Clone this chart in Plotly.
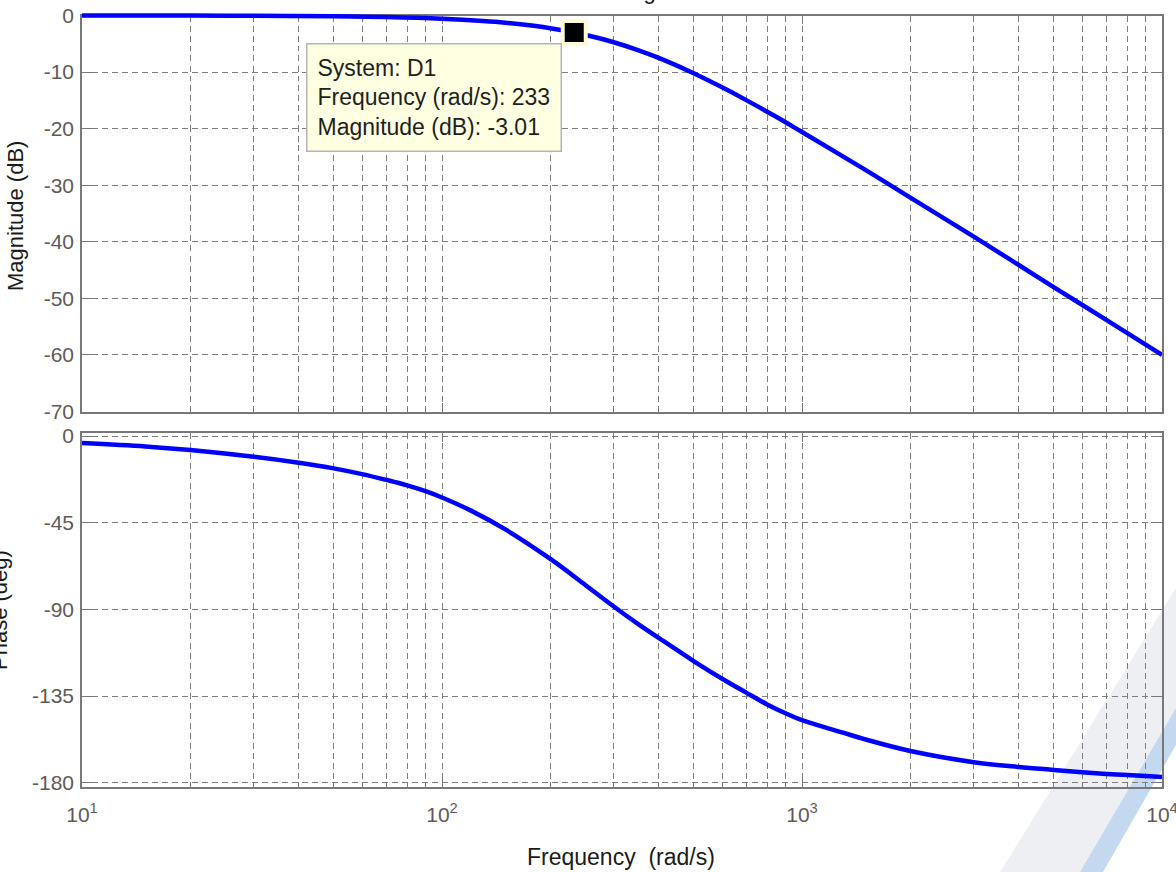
import plotly.graph_objects as go

# ---------------- data ----------------
mag_freq = [10, 20, 30, 50, 70, 100, 130, 150, 180, 200, 233, 270, 300, 350,
            400, 500, 600, 700, 850, 1000, 1500, 2000, 3000, 5000, 7000, 10000]
mag_db = [0.0, -0.02, -0.05, -0.14, -0.28, -0.57, -0.96, -1.27, -1.83, -2.24,
          -3.01, -3.93, -4.73, -6.11, -7.5, -10.2, -12.7, -14.96, -17.95,
          -20.6, -27.3, -32.2, -39.1, -48.0, -53.8, -60.0]

phase_freq = [10, 15, 20, 30, 40, 50, 60, 70, 80, 90, 100, 120, 150, 200, 250,
              300, 350, 400, 500, 600, 700, 800, 900, 1000, 1300, 1500, 2000,
              3000, 4000, 5000, 6000, 7000, 8000, 9000, 10000]
phase_deg = [-3.6, -5.4, -7.3, -10.8, -13.9, -16.8, -19.8, -22.8, -25.6, -28.6,
             -31.9, -38.6, -48.5, -63.8, -77.3, -88.5, -97.5, -104.8, -116.8,
             -126.0, -133.2, -139.3, -143.9, -147.5, -154.0, -157.5, -163.5,
             -169.3, -171.8, -173.3, -174.5, -175.4, -176.0, -176.5, -177.0]

tip_system = "D1"
tip_freq = [233]
tip_mag = [-3.01]

x_tickvals = [10, 100, 1000, 10000]
x_ticktext = ["10<sup>1</sup>", "10<sup>2</sup>", "10<sup>3</sup>", "10<sup>4</sup>"]
x_minor_vals = [m * 10 ** e for e in (1, 2, 3) for m in range(2, 10)]
mag_ticks = [0, -10, -20, -30, -40, -50, -60, -70]
mag_ticktext = ["0", "-10", "-20", "-30", "-40", "-50", "-60", "-70"]
phase_ticks = [0, -45, -90, -135, -180]
phase_ticktext = ["0", "-45", "-90", "-135", "-180"]

title_text = "Bode Diagram"
mag_label = "Magnitude (dB)"
phase_label = "Phase (deg)"
freq_label = "Frequency\u00a0 (rad/s)"

# ---------------- layout geometry ----------------
W, H = 1176, 872
L, R, T, B = 82, 14, 0, 85
PW = W - L - R
PH = H - T - B


def px(x):
    return (x - L) / PW


def py(y):
    return (PH - (y - T)) / PH


FONT = "Liberation Sans, Arial, Helvetica, sans-serif"
AXC = "#787878"
GRIDC = "#7e7e7e"
TICKC = "#5f5a56"

mag_top, mag_bot = 15.5, 411.5
ph_top, ph_bot = 433.3, 786.7
mag_scale = (mag_bot - mag_top) / 70.0
ph_scale = (782.8 - 436.0) / 180.0
ph_range = [-180 - (ph_bot - 782.8) / ph_scale, (436.0 - ph_top) / ph_scale]

fig = go.Figure()

# invisible copy keeps the visible magnitude frame active
fig.add_trace(go.Scatter(x=mag_freq, y=mag_db, mode="lines", opacity=0, line=dict(color="#0000ff", width=1),
                         xaxis="x", yaxis="y", showlegend=False, hoverinfo="skip"))
# magnitude curve + datatip marker on an unclipped overlay frame with the same scale
fig.add_trace(go.Scatter(x=mag_freq, y=mag_db, mode="lines", line=dict(color="#0000ff", width=4.5, shape="spline"),
                         xaxis="x3", yaxis="y3", showlegend=False, hoverinfo="skip"))
fig.add_trace(go.Scatter(x=tip_freq, y=tip_mag, mode="markers",
                         marker=dict(symbol="square", size=23, color="black",
                                     line=dict(color="#fffbd6", width=4)),
                         xaxis="x3", yaxis="y3", showlegend=False, hoverinfo="skip"))
# phase curve
fig.add_trace(go.Scatter(x=phase_freq, y=phase_deg, mode="lines", line=dict(color="#0000ff", width=4.5, shape="spline"),
                         xaxis="x2", yaxis="y2", showlegend=False, hoverinfo="skip"))

common_x = dict(type="log", range=[1, 4], autorange=False, domain=[0, 1], showline=True, linecolor=AXC,
                linewidth=1.5, mirror="ticks", ticks="inside", ticklen=9, tickcolor=AXC, tickwidth=1,
                tickmode="array", tickvals=x_tickvals, ticktext=x_ticktext, showgrid=True, gridcolor=GRIDC,
                griddash="6px,4px", gridwidth=1.2, zeroline=False, layer="below traces", automargin=False,
                ticklabeloverflow="allow",
                minor=dict(tickmode="array", tickvals=x_minor_vals, ticks="inside", ticklen=5,
                           tickcolor=AXC, showgrid=True, gridcolor=GRIDC, griddash="6px,4px", gridwidth=1.2),
                tickfont=dict(family=FONT, size=21, color=TICKC))
common_y = dict(showline=True, linecolor=AXC, linewidth=1.5, mirror="ticks", ticks="inside", ticklen=11,
                tickcolor=AXC, showgrid=True, gridcolor=GRIDC, griddash="6px,4px", gridwidth=1.2,
                zeroline=False, layer="below traces", ticklabelstandoff=2, automargin=False,
                tickmode="array", autorange=False, ticklabeloverflow="allow",
                tickfont=dict(family=FONT, size=21, color=TICKC))
hidden = dict(showline=False, showgrid=False, zeroline=False, showticklabels=False, ticks="",
              automargin=False, autorange=False)

ext_top = 7.0
fig.update_layout(
    template="none",
    width=W, height=H, margin=dict(l=L, r=R, t=T, b=B, pad=0), autosize=False,
    paper_bgcolor="white", plot_bgcolor="rgba(0,0,0,0)",
    xaxis=dict(common_x, anchor="y", showticklabels=False),
    yaxis=dict(common_y, anchor="x", domain=[py(mag_bot), py(mag_top)], range=[-70, 0],
               tickvals=mag_ticks, ticktext=mag_ticktext),
    xaxis2=dict(common_x, anchor="y2", showticklabels=True, ticklabelstandoff=8),
    yaxis2=dict(common_y, anchor="x2", domain=[py(ph_bot), py(ph_top)], range=ph_range,
                tickvals=phase_ticks, ticktext=phase_ticktext),
    xaxis3=dict(hidden, type="log", range=[1, 4], domain=[0, 1], anchor="y3"),
    yaxis3=dict(hidden, domain=[py(mag_bot), py(ext_top)], range=[-70, (mag_top - ext_top) / mag_scale],
                anchor="x3"),
)

# watermark (decoration, bottom-right)
def path(points):
    return "M " + " L ".join(f"{px(x):.5f},{py(y):.5f}" for x, y in points) + " Z"

fig.add_shape(type="path", xref="paper", yref="paper", layer="below", line=dict(width=0),
              fillcolor="rgba(228,231,236,0.65)",
              path=path([(1000, 872), (1080, 872), (1176, 708), (1176, 588)]))
fig.add_shape(type="path", xref="paper", yref="paper", layer="below", line=dict(width=0),
              fillcolor="rgba(176,203,233,0.75)",
              path=path([(1080, 872), (1103, 872), (1176, 745), (1176, 708)]))

ann = []
# title (mostly cut off at the top of the picture)
ann.append(dict(text=title_text, xref="paper", yref="paper", x=px(623), y=py(6), xanchor="center",
                yanchor="bottom", showarrow=False, font=dict(family=FONT, size=22, color="#1a1a1a")))
# axis titles
ann.append(dict(text=mag_label, xref="paper", yref="paper", x=px(15), y=py(216), xanchor="center",
                yanchor="middle", textangle=-90, showarrow=False, font=dict(family=FONT, size=22, color="#1a1a1a")))
ann.append(dict(text=phase_label, xref="paper", yref="paper", x=px(-1), y=py(610), xanchor="center",
                yanchor="middle", textangle=-90, showarrow=False, font=dict(family=FONT, size=22, color="#1a1a1a")))
ann.append(dict(text=freq_label, xref="paper", yref="paper", x=px(621), y=py(857), xanchor="center",
                yanchor="middle", showarrow=False, font=dict(family=FONT, size=23, color="#1a1a1a")))
# datatip box
tip_lines = [f"System: {tip_system}", f"Frequency (rad/s): {tip_freq[0]}", f"Magnitude (dB): {tip_mag[0]:.2f}"]
ann.append(dict(text="<br>".join(tip_lines), xref="paper", yref="paper", x=px(306), y=py(43),
                xanchor="left", yanchor="top", align="left", showarrow=False,
                bgcolor="#ffffe1", bordercolor="#b4b4b4", borderwidth=1.5, borderpad=10,
                font=dict(family=FONT, size=23, color="#1e1e1e")))
fig.update_layout(annotations=ann)

fig.write_html("out.html", config={"displayModeBar": False},
               post_script="document.body.style.margin='0';document.body.style.overflow='hidden';")
